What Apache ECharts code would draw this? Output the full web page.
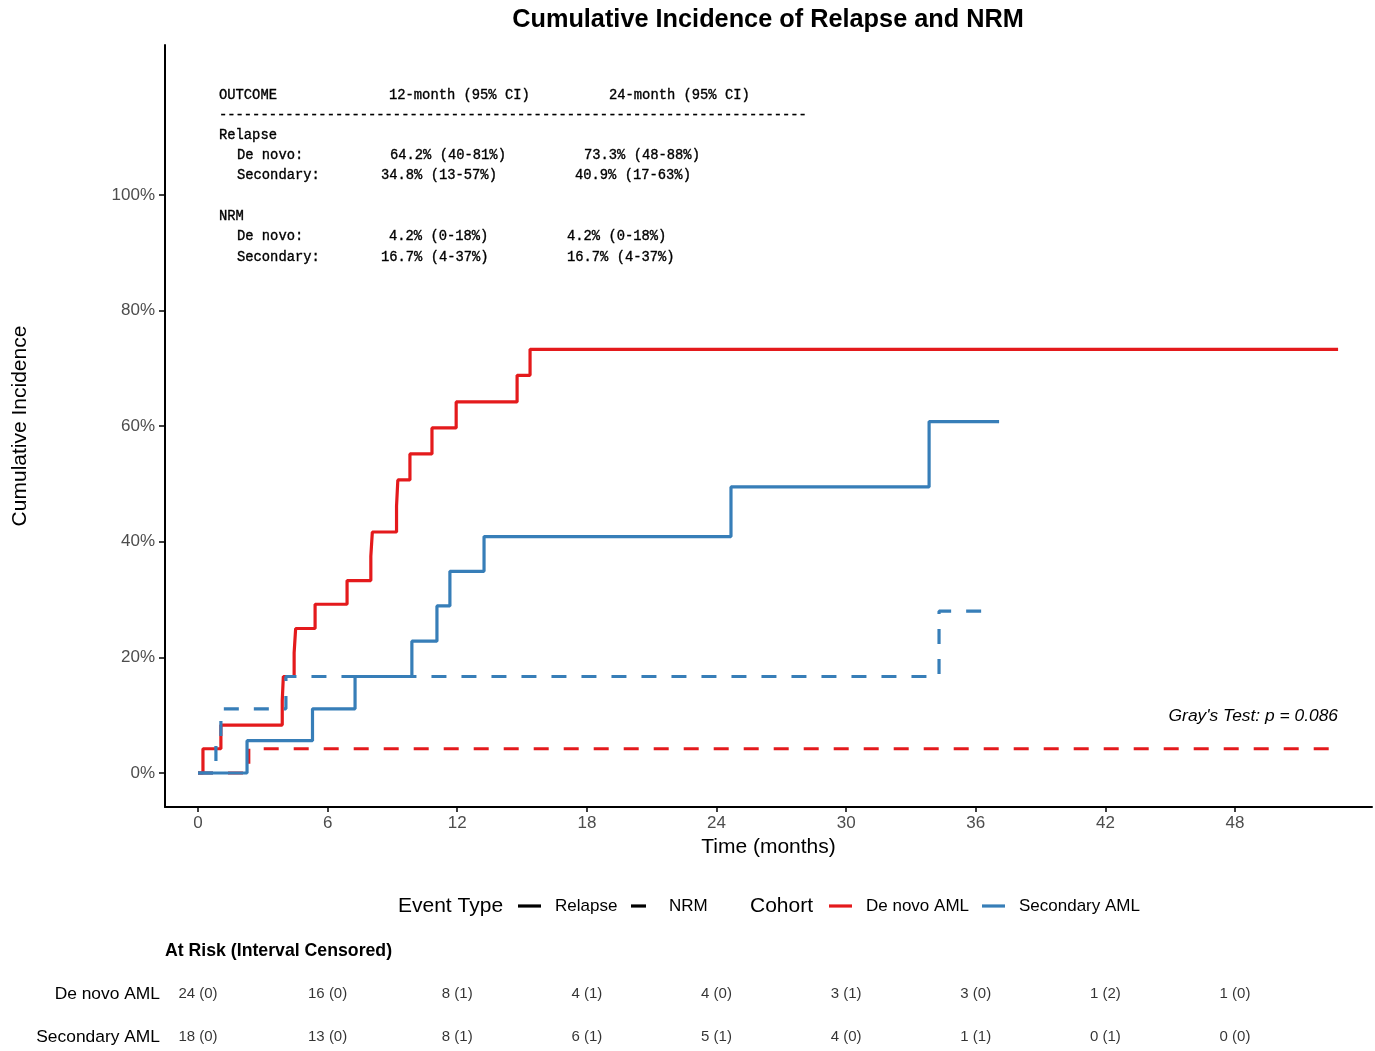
<!DOCTYPE html>
<html><head><meta charset="utf-8">
<script src="https://cdn.jsdelivr.net/npm/echarts@6/dist/echarts.min.js"></script>
<style>html,body{margin:0;padding:0;background:#fff}#c{width:1375px;height:1051px}</style>
</head><body><div id="c"></div>
<script>
// ---------- DATA ----------
const timeTicks = [0, 6, 12, 18, 24, 30, 36, 42, 48];
const pctTicks = [0, 20, 40, 60, 80, 100];

// De novo AML - Relapse (cumulative incidence, %)
const denovoRelapseT = [0, 0.23, 1.06, 3.90, 3.95, 4.45, 4.52, 5.42, 6.90, 8.00, 8.07, 9.19, 9.25, 9.81, 10.83, 11.95, 14.77, 15.37, 52.77];
const denovoRelapseV = [0, 4.2, 8.3, 12.5, 16.7, 20.8, 25.0, 29.2, 33.3, 37.5, 41.7, 46.2, 50.7, 55.2, 59.7, 64.2, 68.8, 73.3, 73.3];
// De novo AML - NRM
const denovoNrmT = [0, 2.35, 52.77];
const denovoNrmV = [0, 4.2, 4.2];
// Secondary AML - Relapse
const secondaryRelapseT = [0, 2.27, 5.30, 7.27, 9.90, 11.06, 11.66, 13.24, 24.67, 33.84, 37.08];
const secondaryRelapseV = [0, 5.6, 11.1, 16.7, 22.8, 28.9, 34.9, 40.9, 49.5, 60.8, 60.8];
// Secondary AML - NRM
const secondaryNrmT = [0, 0.83, 1.06, 4.07, 34.30, 36.57];
const secondaryNrmV = [0, 5.6, 11.1, 16.7, 28.0, 28.0];

// At risk table
const riskGroups = ['De novo AML', 'Secondary AML'];
const denovoAtRisk = [24, 16, 8, 4, 4, 3, 3, 1, 1];
const denovoCensored = [0, 0, 1, 1, 0, 1, 0, 2, 0];
const secondaryAtRisk = [18, 13, 8, 6, 5, 4, 1, 0, 0];
const secondaryCensored = [0, 0, 1, 1, 1, 0, 1, 1, 0];

// Summary table text
const tableHeader = ['OUTCOME', '12-month (95% CI)', '24-month (95% CI)'];
const relapseDenovo = ['64.2% (40-81%)', '73.3% (48-88%)'];
const relapseSecondary = ['34.8% (13-57%)', '40.9% (17-63%)'];
const nrmDenovo = ['4.2% (0-18%)', '4.2% (0-18%)'];
const nrmSecondary = ['16.7% (4-37%)', '16.7% (4-37%)'];
const grayTest = "Gray's Test: p = 0.086";

// ---------- CHART ----------
const RED = '#E41A1C', BLUE = '#377EB8';
const SANS = '"Liberation Sans", Arial, sans-serif';
const MONO = '"Liberation Mono", "Courier New", monospace';
const X_MIN = -1.527, X_MAX = 54.34, Y_MIN = -5.88, Y_MAX = 125.95;

function zip(t, v) { return t.map((x, i) => [x, v[i]]); }
function txt(x, y, text, font, align, color, extra, strokeW) {
  const st = { text: text, x: 0, y: 0, font: font, fill: color || '#000',
      align: align || 'left', textAlign: align || 'left',
      verticalAlign: 'middle', textVerticalAlign: 'middle' };
  if (strokeW) { st.stroke = color || '#000'; st.lineWidth = strokeW; }
  return Object.assign({ type: 'text', x: x, y: y, silent: true, style: st }, extra || {});
}
function line(x1, x2, y, color) {
  return { type: 'line', silent: true, shape: { x1: x1, y1: y, x2: x2, y2: y },
    style: { stroke: color, lineWidth: 3.2 } };
}

const graphics = [];
graphics.push(txt(768, 20, 'Cumulative Incidence of Relapse and NRM', 'bold 25.3px ' + SANS, 'center'));
graphics.push(txt(20, 426, 'Cumulative Incidence', '21px ' + SANS, 'center', '#000', { rotation: Math.PI / 2 }));

// summary table
const tf = '13.8px ' + MONO;
const SW = 0.35;
const rowY = [95, 115, 135, 155, 175, 216, 236, 257];
function tcell(x, r, s) { graphics.push(txt(x, rowY[r], s, tf, 'left', '#000', null, SW)); }
tcell(219, 0, tableHeader[0]);
tcell(389, 0, tableHeader[1]);
tcell(609, 0, tableHeader[2]);
tcell(219, 1, '-'.repeat(71));
tcell(219, 2, 'Relapse');
tcell(237, 3, 'De novo:');
tcell(390, 3, relapseDenovo[0]);
tcell(584, 3, relapseDenovo[1]);
tcell(237, 4, 'Secondary:');
tcell(381, 4, relapseSecondary[0]);
tcell(575, 4, relapseSecondary[1]);
tcell(219, 5, 'NRM');
tcell(237, 6, 'De novo:');
tcell(389, 6, nrmDenovo[0]);
tcell(567, 6, nrmDenovo[1]);
tcell(237, 7, 'Secondary:');
tcell(381, 7, nrmSecondary[0]);
tcell(567, 7, nrmSecondary[1]);

graphics.push(txt(1338, 716, grayTest, 'italic 17.4px ' + SANS, 'right'));

// legend
const LY = 906;
graphics.push(txt(398, LY, 'Event Type', '21px ' + SANS));
graphics.push(line(518, 541, LY, '#000'));
graphics.push(txt(555, LY, 'Relapse', '17px ' + SANS));
graphics.push(line(631, 646, LY, '#000'));
graphics.push(txt(669, LY, 'NRM', '17px ' + SANS));
graphics.push(txt(750, LY, 'Cohort', '21px ' + SANS));
graphics.push(line(829, 852, LY, RED));
graphics.push(txt(866, LY, 'De novo AML', '17px ' + SANS));
graphics.push(line(982, 1005, LY, BLUE));
graphics.push(txt(1019, LY, 'Secondary AML', '17px ' + SANS));

graphics.push(txt(165, 951, 'At Risk (Interval Censored)', 'bold 17.7px ' + SANS));

const riskData = [];
timeTicks.forEach((t, i) => {
  riskData.push({ value: [t, riskGroups[0]], name: denovoAtRisk[i] + ' (' + denovoCensored[i] + ')' });
  riskData.push({ value: [t, riskGroups[1]], name: secondaryAtRisk[i] + ' (' + secondaryCensored[i] + ')' });
});

function stepSeries(name, t, v, color, dashed) {
  return {
    name: name, type: 'line', step: 'end', xAxisIndex: 0, yAxisIndex: 0,
    data: zip(t, v), symbol: 'none', showSymbol: false, animation: false,
    lineStyle: { color: color, width: 3.2, type: dashed ? [15, 15] : 'solid', cap: 'butt' },
    emphasis: { disabled: true }
  };
}

const chart = echarts.init(document.getElementById('c'), null, { renderer: 'canvas' });
chart.setOption({
  animation: false,
  backgroundColor: '#fff',
  textStyle: { fontFamily: SANS },
  grid: [
    { left: 165, right: 3, top: 45, bottom: 244, containLabel: false },
    { left: 165, right: 3, top: 994, height: 43, containLabel: false }
  ],
  xAxis: [
    {
      type: 'value', gridIndex: 0, min: X_MIN, max: X_MAX,
      name: 'Time (months)', nameLocation: 'middle', nameGap: 29,
      nameTextStyle: { fontSize: 21, color: '#000', fontFamily: SANS },
      axisLine: { onZero: false, lineStyle: { color: '#000', width: 2 } },
      axisTick: { show: true, length: 5, lineStyle: { color: '#000', width: 1.5 }, customValues: timeTicks },
      axisLabel: { fontSize: 17, color: '#4d4d4d', margin: 8, customValues: timeTicks, fontFamily: SANS },
      splitLine: { show: false }
    },
    { type: 'value', gridIndex: 1, min: X_MIN, max: X_MAX, show: false }
  ],
  yAxis: [
    {
      type: 'value', gridIndex: 0, min: Y_MIN, max: Y_MAX,
      axisLine: { show: true, onZero: false, lineStyle: { color: '#000', width: 2 } },
      axisTick: { show: true, length: 6, lineStyle: { color: '#000', width: 1.5 }, customValues: pctTicks },
      axisLabel: { fontSize: 17, color: '#4d4d4d', margin: 10, customValues: pctTicks, formatter: '{value}%', fontFamily: SANS },
      splitLine: { show: false }
    },
    {
      type: 'category', gridIndex: 1, boundaryGap: false, data: [riskGroups[1], riskGroups[0]],
      axisLine: { show: false }, axisTick: { show: false },
      axisLabel: { fontSize: 17.4, color: '#000', margin: 5, fontFamily: SANS },
      splitLine: { show: false }
    }
  ],
  series: [
    stepSeries('De novo AML Relapse', denovoRelapseT, denovoRelapseV, RED, false),
    stepSeries('De novo AML NRM', denovoNrmT, denovoNrmV, RED, true),
    stepSeries('Secondary AML Relapse', secondaryRelapseT, secondaryRelapseV, BLUE, false),
    stepSeries('Secondary AML NRM', secondaryNrmT, secondaryNrmV, BLUE, true),
    {
      name: 'At risk', type: 'scatter', xAxisIndex: 1, yAxisIndex: 1,
      data: riskData, symbol: 'circle', symbolSize: 1,
      itemStyle: { color: 'rgba(0,0,0,0)' }, silent: true, animation: false,
      label: { show: true, position: 'inside', formatter: '{b}', fontSize: 15, color: '#000', fontFamily: SANS }
    }
  ],
  graphic: { elements: graphics }
});
</script>
</body></html>
